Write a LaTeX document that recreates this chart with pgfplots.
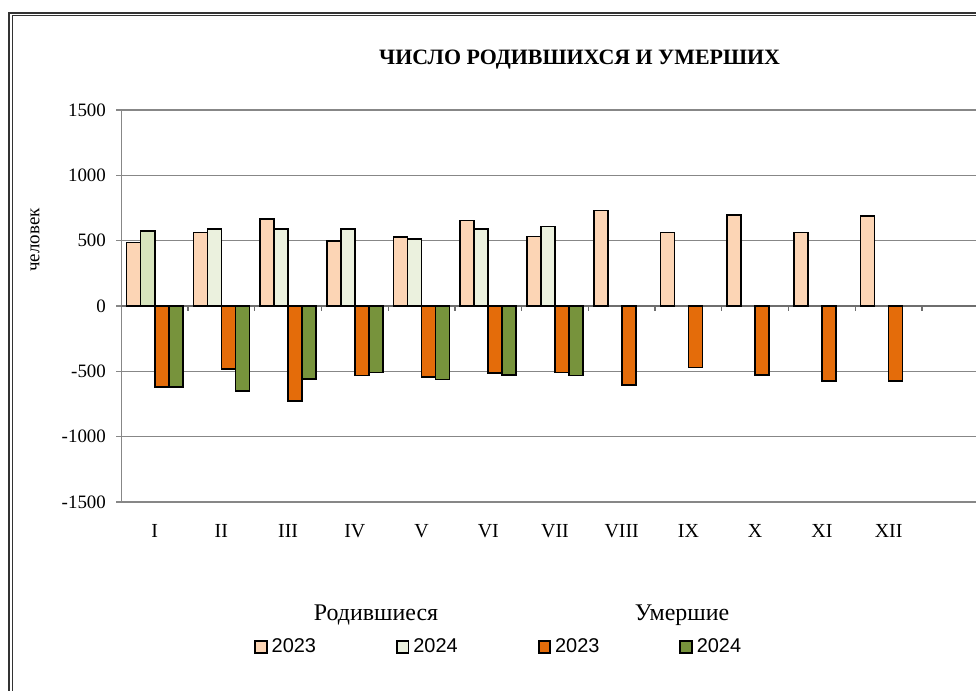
\documentclass[border=0pt]{standalone}
\usepackage{fontspec}
\setmainfont{Liberation Serif}
\newfontfamily\sansfont{Liberation Sans}
\usepackage{pgfplots}
\pgfplotsset{compat=1.18}
\definecolor{b23}{HTML}{FCD5B5}
\definecolor{b24}{HTML}{EBF1DE}
\definecolor{b24a}{HTML}{D7E4BD}
\definecolor{d23}{HTML}{E46C0A}
\definecolor{d24}{HTML}{77933C}
\definecolor{gridg}{HTML}{878787}
\definecolor{zerog}{HTML}{6E6E6E}
\begin{document}
\begin{tikzpicture}
\useasboundingbox (0,0) rectangle (488bp,345.5bp);
% frame
\draw[line width=1bp,black!80] (4.65bp,-20bp) -- (4.65bp,339.1bp) -- (520bp,339.1bp);
\draw[line width=0.4bp,black!80] (6bp,-20bp) -- (6bp,337.85bp) -- (520bp,337.85bp);
% title
\node[font=\fontsize{11}{13}\selectfont\bfseries] at (289.8bp,315.9bp) {ЧИСЛО РОДИВШИХСЯ И УМЕРШИХ};
\node[font=\fontsize{9.5}{11}\selectfont, rotate=90] at (17.5bp,225.5bp) {человек};
\node[font=\fontsize{12}{14}\selectfont] at (188bp,38bp) {Родившиеся};
\node[font=\fontsize{12}{14}\selectfont] at (341bp,38bp) {Умершие};
\begin{axis}[
  at={(60.65bp,94.5bp)}, anchor=south west,
  scale only axis, width=427.35bp, height=196bp,
  xmin=-0.5, xmax=12.31, ymin=-1500, ymax=1500,
  axis x line*=bottom, axis y line*=left,
  axis line style={gridg, line width=0.6bp},
  ytick={-1500,-1000,-500,0,500,1000,1500},
  yticklabels={-1500,-1000,-500,0,500,1000,1500},
  yticklabel style={font=\fontsize{9.5}{11}\selectfont, inner sep=0pt, xshift=-5bp},
  ytick style={gridg, line width=0.6bp},
  ytick align=outside, major tick length=2.5bp,
  ymajorgrids, grid style={gridg, line width=0.6bp},
  xtick={0,...,11},
  xticklabels={I,II,III,IV,V,VI,VII,VIII,IX,X,XI,XII},
  xtick style={draw=none},
  xticklabel style={font=\fontsize{10}{12}\selectfont, anchor=base, yshift=-17.5bp},
  legend columns=4,
  legend style={at={(0.1482,-0.3699)}, anchor=west, draw=none, fill=none,
    font=\sansfont\fontsize{10}{12}\selectfont,
    /tikz/every even column/.append style={column sep=38bp}},
  legend image code/.code={\draw[#1,line width=0.9bp] (0bp,-2.9bp) rectangle (5.8bp,2.9bp);},
]
\draw[zerog, line width=0.7bp] (axis cs:-0.5,0) -- (axis cs:12.31,0);
\pgfplotsinvokeforeach{0.5,1.5,...,11.5}{\draw[zerog, line width=0.6bp] (axis cs:#1,0) -- ([yshift=-2.5bp]axis cs:#1,0);}
\addplot[ybar, bar width=0.21, bar shift=-0.315, fill=b23, draw=black, line width=0.85bp]
  coordinates {(0,487) (1,563) (2,667) (3,500) (4,528) (5,654) (6,533) (7,730) (8,563) (9,699) (10,563) (11,687)};
\addlegendentry{2023}
\addplot[ybar, bar width=0.21, bar shift=-0.105, fill=b24, draw=black, line width=0.85bp]
  coordinates {(0,576) (1,591) (2,591) (3,591) (4,515) (5,591) (6,609)};
\addlegendentry{2024}
\addplot[ybar, bar width=0.21, bar shift=0.105, fill=d23, draw=black, line width=0.85bp]
  coordinates {(0,-619) (1,-482) (2,-725) (3,-533) (4,-545) (5,-513) (6,-510) (7,-606) (8,-470) (9,-530) (10,-576) (11,-576)};
\addlegendentry{2023}
\addplot[ybar, bar width=0.21, bar shift=0.315, fill=d24, draw=black, line width=0.85bp]
  coordinates {(0,-619) (1,-652) (2,-561) (3,-510) (4,-563) (5,-530) (6,-533)};
\addlegendentry{2024}
\addplot[ybar, bar width=0.21, bar shift=-0.105, fill=b24a, draw=black, line width=0.85bp, forget plot]
  coordinates {(0,576)};
\end{axis}
\end{tikzpicture}
\end{document}
